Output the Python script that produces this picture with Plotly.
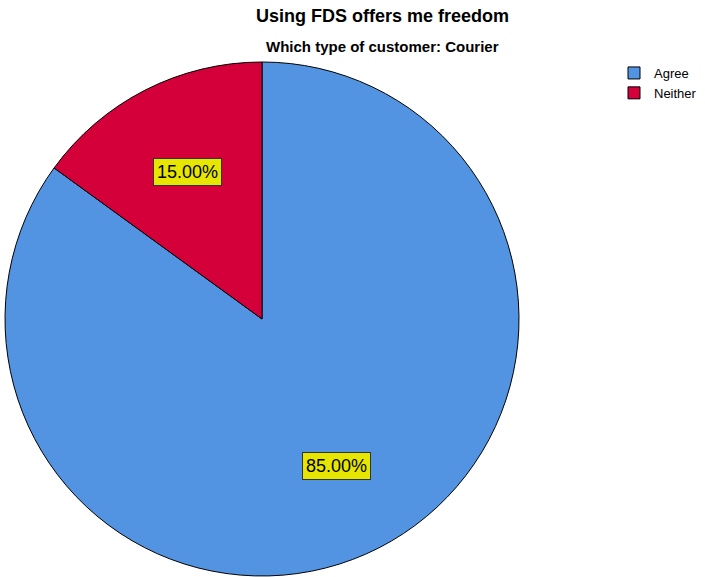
import math
import plotly.graph_objects as go

labels = ["Agree", "Neither"]
values = [85.0, 15.0]
colors = ["#5294E2", "#D3003A"]
title_text = "Using FDS offers me freedom"
subtitle_text = "Which type of customer: Courier"

W, H = 705, 577
FONT = "Liberation Sans, Arial"
# pie domain in pixels
x0, x1 = 5, 519
y0, y1 = 62, 576
dom_x = [x0 / W, x1 / W]
dom_y = [1 - y1 / H, 1 - y0 / H]

fig = go.Figure()
fig.add_trace(go.Pie(
    labels=labels, values=values, sort=False, direction="clockwise", rotation=0,
    marker=dict(colors=colors, line=dict(color="#000000", width=1)),
    textinfo="none", hoverinfo="label+percent",
    domain=dict(x=dom_x, y=dom_y),
))

# percentage labels placed at slice midpoints
cx = (x0 + x1) / 2
cy = (y0 + y1) / 2
R = (x1 - x0) / 2
total = sum(values)
cum = 0.0
for v in values:
    mid = (cum + v / 2) / total * 2 * math.pi
    cum += v
    px = cx + 0.64 * R * math.sin(mid)
    py = cy - 0.64 * R * math.cos(mid)
    fig.add_annotation(
        x=px / W, y=1 - py / H, xref="paper", yref="paper",
        xanchor="center", yanchor="middle",
        text=f"{v / total * 100:.2f}%", showarrow=False,
        font=dict(family=FONT, size=18, color="#000000"),
        bgcolor="#E6E600", bordercolor="#333333", borderwidth=1, borderpad=3,
    )

fig.add_annotation(x=382 / W, y=1 - 16 / H, xref="paper", yref="paper",
                   xanchor="center", yanchor="middle",
                   text=f"<b>{title_text}</b>", showarrow=False,
                   font=dict(family=FONT, size=18, color="#000000"))
fig.add_annotation(x=382 / W, y=1 - 47 / H, xref="paper", yref="paper",
                   xanchor="center", yanchor="middle",
                   text=f"<b>{subtitle_text}</b>", showarrow=False,
                   font=dict(family=FONT, size=15, color="#000000"))

fig.update_layout(
    width=W, height=H, margin=dict(l=0, r=0, t=0, b=0, autoexpand=False),
    paper_bgcolor="#FFFFFF", plot_bgcolor="#FFFFFF",
    showlegend=True,
    legend=dict(x=614 / W, y=1 - 58 / H, xanchor="left", yanchor="top",
                font=dict(family=FONT, size=13, color="#000000"),
                bgcolor="rgba(0,0,0,0)", itemwidth=30, tracegroupgap=0),
)
fig.write_html("out.html")
